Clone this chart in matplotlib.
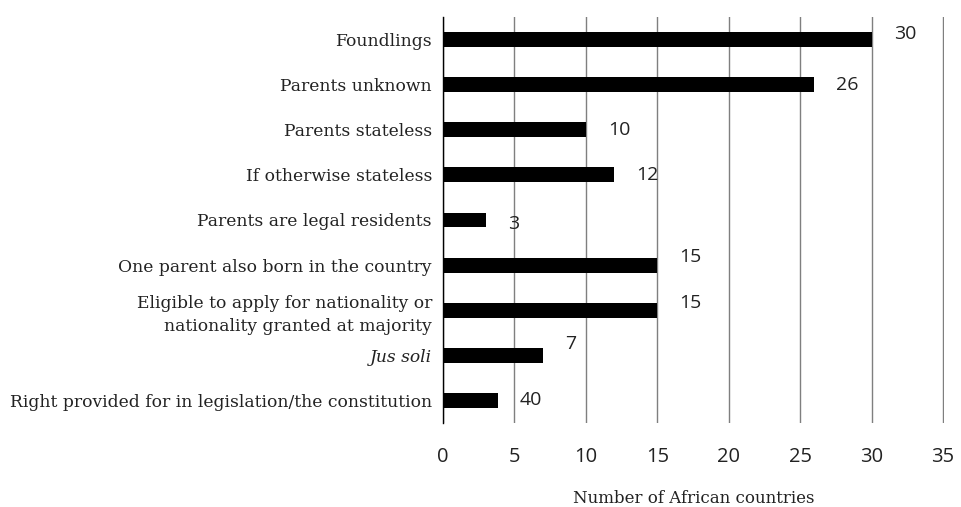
import matplotlib.pyplot as plt

# data (top to bottom)
categories = ["Foundlings", "Parents unknown", "Parents stateless",
              "If otherwise stateless", "Parents are legal residents",
              "One parent also born in the country",
              "Eligible to apply for nationality or\nnationality granted at majority",
              "Jus soli",
              "Right provided for in legislation/the constitution"]
values = [30, 26, 10, 12, 3, 15, 15, 7, 3.85]
value_labels = ["30", "26", "10", "12", "3", "15", "15", "7", "40"]
xticks = [0, 5, 10, 15, 20, 25, 30, 35]

# small vertical nudges of the value labels (pixels), as in the original
label_dy = [6, 0, 0, 0, -4, 8, 7, 11, 0]

serif = "DejaVu Serif"
sans = "Open Sans"

fig = plt.figure(figsize=(9.61, 5.07), dpi=100)
ax = fig.add_axes([0.461, 0.1657, 0.521, 0.8008])

ypos = list(range(len(categories)))
ax.barh(ypos, values, height=0.33, color="black", zorder=3)

for y, v, lab, dy in zip(ypos, values, value_labels, label_dy):
    ax.annotate(lab, (v, y), xytext=(22, dy), textcoords="offset pixels",
                ha="left", va="center", fontsize=14, family=sans,
                color="#222222")

ax.set_xlim(0, 35.05)
ax.set_ylim(len(categories) - 0.5, -0.5)
ax.set_xticks(xticks)
ax.set_xticklabels([str(t) for t in xticks], family=sans, fontsize=14.5,
                   color="#222222")
ax.set_yticks(ypos)
ax.set_yticklabels(categories, family=serif, fontsize=12.3, color="#222222",
                   linespacing=1.45)
ax.get_yticklabels()[7].set_style("italic")
ax.tick_params(axis="both", length=0)
ax.tick_params(axis="y", pad=8)
ax.tick_params(axis="x", pad=17)

ax.grid(axis="x", color="#7f7f7f", linewidth=1, zorder=0)
for s in ["top", "right", "bottom"]:
    ax.spines[s].set_visible(False)
ax.spines["left"].set_color("black")
ax.spines["left"].set_linewidth(1)

ax.set_xlabel("Number of African countries", family=serif, fontsize=12,
              color="#222222", labelpad=17)

fig.savefig("out.png", dpi=100)
